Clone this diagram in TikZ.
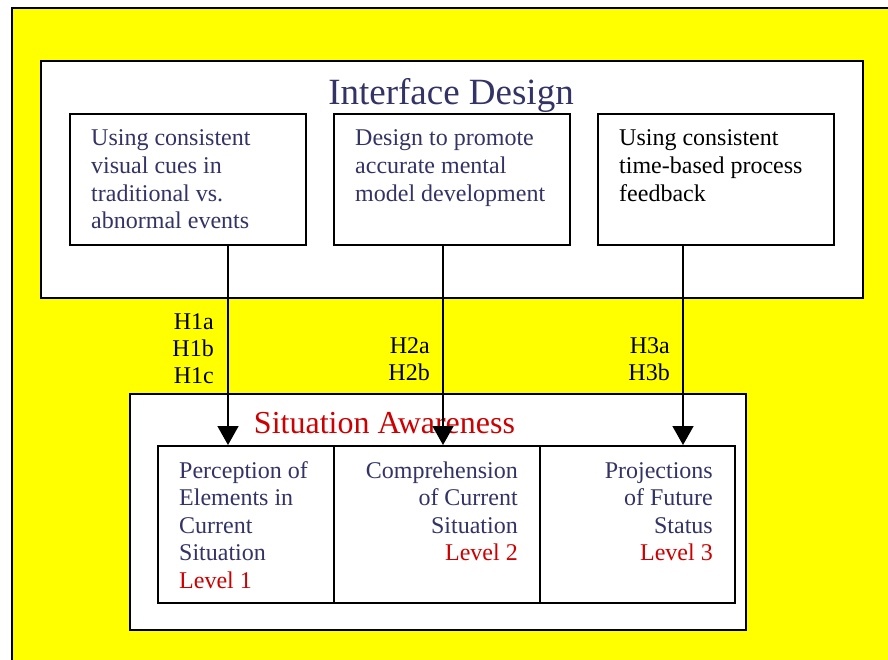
\documentclass[tikz,border=0pt]{standalone}
\usepackage{fontspec}
\setmainfont{Liberation Serif}
\usetikzlibrary{arrows.meta}
\definecolor{slate}{RGB}{51,51,102}
\definecolor{lvlred}{RGB}{204,0,0}
\definecolor{bgyellow}{RGB}{255,255,0}
\begin{document}
\begin{tikzpicture}[x=1pt,y=-1pt,
  frame/.style={draw=black, line width=1.8pt, fill=white, inner sep=0pt, anchor=north west},
  body/.style={inner sep=0pt, font=\fontsize{24}{27.6}\selectfont, text=slate},
  hlabel/.style={inner sep=0pt, font=\fontsize{24}{27}\selectfont, text=black, align=right, anchor=base east},
  link/.style={line width=1.6pt, -{Triangle[width=21pt,length=19pt]}}]
\useasboundingbox (0,0) rectangle (888,660);
% page and yellow panel
\fill[white] (0,0) rectangle (888,660);
\fill[bgyellow] (12,8) rectangle (888,660);
\draw[line width=2pt] (12,660) -- (12,8) -- (888,8);

% interface design block
\node[frame, minimum width=822pt, minimum height=237pt] (iface) at (40,60) {};
\node[inner sep=0pt, anchor=base, font=\fontsize{37}{40}\selectfont, text=slate] (ifacetitle) at (451,105) {Interface Design};
\node[frame, minimum width=236pt, minimum height=131pt] (t1) at (69,113) {};
\node[frame, minimum width=236pt, minimum height=131pt] (t2) at (333,113) {};
\node[frame, minimum width=236pt, minimum height=131pt] (t3) at (597,113) {};
% multi-line texts are anchored on the baseline of their last line
\node[body, align=left, anchor=base west] (t1text) at (91,228.8)
  {Using consistent\\visual cues in\\traditional vs.\\abnormal events};
\node[body, align=left, anchor=base west] (t2text) at (355,201.2)
  {Design to promote\\accurate mental\\model development};
\node[body, align=left, anchor=base west, text=black] (t3text) at (619,201.2)
  {Using consistent\\time-based process\\feedback};

% hypothesis labels
\node[hlabel] (h1) at (214,383) {H1a\\H1b\\H1c};
\node[hlabel] (h2) at (430,380) {H2a\\H2b};
\node[hlabel] (h3) at (670,380) {H3a\\H3b};

% situation awareness block
\node[frame, minimum width=616pt, minimum height=236pt] (sa) at (129,393) {};
\node[inner sep=0pt, anchor=base, font=\fontsize{32}{36}\selectfont, text=lvlred] (satitle) at (384.5,433) {Situation Awareness};
\node[frame, minimum width=176pt, minimum height=157pt] (sA) at (157,445) {};
\node[frame, minimum width=206pt, minimum height=157pt] (sB) at (333,445) {};
\node[frame, minimum width=195pt, minimum height=157pt] (sC) at (539,445) {};
\node[body, align=left, anchor=base west] (sAtext) at (179,588.4)
  {Perception of\\Elements in\\Current\\Situation\\\textcolor{lvlred}{Level 1}};
\node[body, align=right, anchor=base east] (sBtext) at (518,560.8)
  {Comprehension\\of Current\\Situation\\\textcolor{lvlred}{Level 2}};
\node[body, align=right, anchor=base east] (sCtext) at (713,560.8)
  {Projections\\of Future\\Status\\\textcolor{lvlred}{Level 3}};

% links from design principles to awareness levels
\coordinate (x1) at (228,0);
\coordinate (x2) at (443,0);
\coordinate (x3) at (683,0);
\draw[link] (t1.south -| x1) -- (sA.north -| x1);
\draw[link] (t2.south -| x2) -- (sB.north -| x2);
\draw[link] (t3.south -| x3) -- (sC.north -| x3);
\end{tikzpicture}
\end{document}
